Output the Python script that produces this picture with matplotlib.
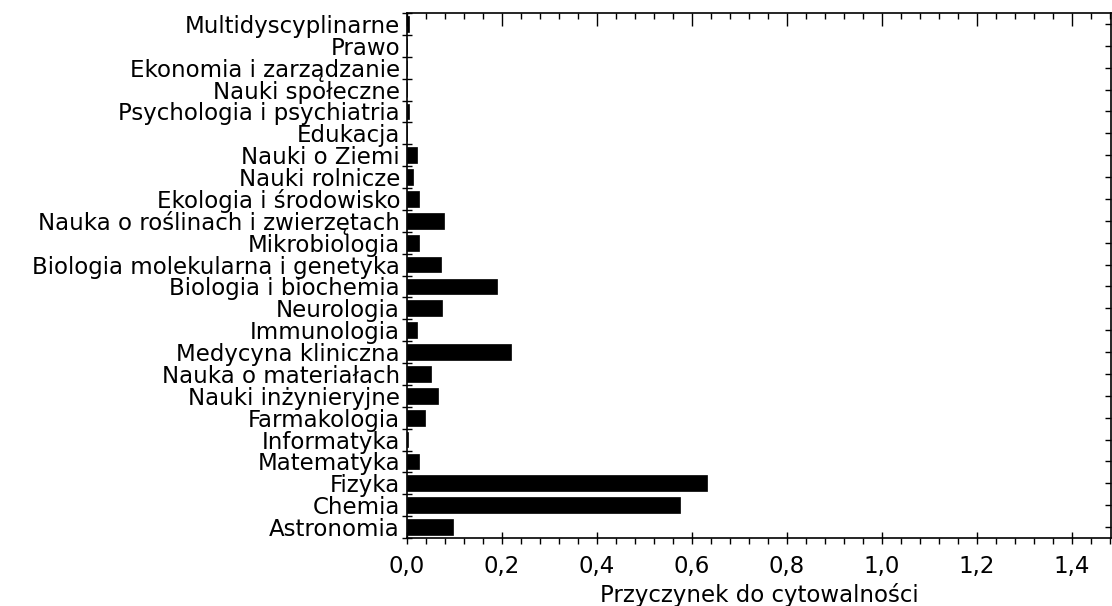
import matplotlib
matplotlib.use("Agg")
import matplotlib.pyplot as plt
from matplotlib.ticker import MultipleLocator, FuncFormatter, FixedLocator

plt.rcParams['font.family'] = ['DejaVu Sans']

categories = [
    "Astronomia", "Chemia", "Fizyka", "Matematyka", "Informatyka",
    "Farmakologia", "Nauki inżynieryjne", "Nauka o materiałach",
    "Medycyna kliniczna", "Immunologia", "Neurologia", "Biologia i biochemia",
    "Biologia molekularna i genetyka", "Mikrobiologia",
    "Nauka o roślinach i zwierzętach", "Ekologia i środowisko",
    "Nauki rolnicze", "Nauki o Ziemi", "Edukacja",
    "Psychologia i psychiatria", "Nauki społeczne",
    "Ekonomia i zarządzanie", "Prawo", "Multidyscyplinarne",
]
values = [
    0.097, 0.575, 0.632, 0.025, 0.002,
    0.038, 0.065, 0.050,
    0.219, 0.021, 0.074, 0.190,
    0.072, 0.025,
    0.078, 0.025,
    0.013, 0.021, 0.0,
    0.004, 0.0,
    0.0, 0.0, 0.005,
]
xlabel = "Przyczynek do cytowalności"

FS = 16.5

fig = plt.figure(figsize=(11.12, 6.06), dpi=100)
ax = fig.add_axes([0.366, 0.1122, 0.633, 0.8663])

y = list(range(len(categories)))
ax.barh(y, values, height=0.72, color="black", edgecolor="black", linewidth=0.5)

ax.set_xlim(0, 1.482)
ax.set_ylim(-0.5, len(categories) - 0.5)

ax.set_yticks(y)
ax.set_yticklabels(categories, fontsize=FS)
ax.yaxis.set_minor_locator(FixedLocator([i + 0.5 for i in range(-1, len(categories))]))
ax.tick_params(axis='y', which='major', left=False, right=True, direction='in', length=4, width=1, pad=5)
ax.tick_params(axis='y', which='minor', left=True, right=False, direction='inout', length=7, width=1)

ax.xaxis.set_major_locator(MultipleLocator(0.2))
ax.xaxis.set_minor_locator(MultipleLocator(0.04))
ax.xaxis.set_major_formatter(FuncFormatter(lambda v, p: f"{v:.1f}".replace('.', ',')))
ax.tick_params(axis='x', which='major', bottom=True, top=True, direction='inout', length=9, width=1, labelsize=FS, pad=8)
ax.tick_params(axis='x', which='minor', bottom=True, top=True, direction='out', length=4, width=1)
for t in ax.xaxis.get_major_ticks():
    t.tick2line.set_marker(3)
for t in ax.xaxis.get_minor_ticks():
    t.tick2line.set_marker(3)

ax.set_xlabel(xlabel, fontsize=FS)
ax.xaxis.set_label_coords(0.5, -0.086)

for s in ax.spines.values():
    s.set_linewidth(1.2)
    s.set_color("black")

fig.savefig("out.png", dpi=100)
